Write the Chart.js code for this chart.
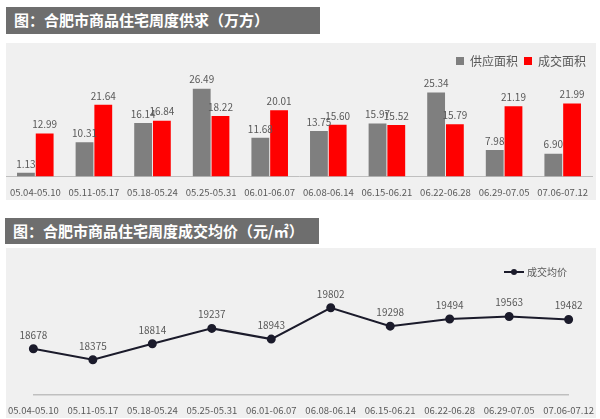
<!DOCTYPE html>
<html><head><meta charset="utf-8">
<script src="https://cdn.jsdelivr.net/npm/chart.js@4"></script>
<style>
body{margin:0;width:600px;height:419px;background:#fff;position:relative;overflow:hidden;font-family:"Noto Sans CJK SC",sans-serif}
.t{position:absolute;background:#6e6e6e;color:#fff;font-weight:bold;font-size:15px;line-height:26px;padding-left:8px;box-sizing:border-box}
.p{position:absolute;background:#f0f0f0}
</style></head><body>
<div class="t" style="left:6px;top:7px;width:314px;height:27px">图：合肥市商品住宅周度供求（万方）</div>
<div class="p" style="left:6px;top:43px;width:590px;height:157px"><canvas id="c1"></canvas></div>
<div class="t" style="left:5px;top:218px;width:314px;height:26px">图：合肥市商品住宅周度成交均价（元/㎡）</div>
<div class="p" style="left:6px;top:248px;width:590px;height:170px"><canvas id="c2"></canvas></div>
<script>
const categories=["05.04-05.10","05.11-05.17","05.18-05.24","05.25-05.31","06.01-06.07","06.08-06.14","06.15-06.21","06.22-06.28","06.29-07.05","07.06-07.12"];
const supply=[1.13,10.31,16.14,26.49,11.68,13.75,15.97,25.34,7.98,6.90];
const deal=[12.99,21.64,16.84,18.22,20.01,15.60,15.52,15.79,21.19,21.99];
const price=[18678,18375,18814,19237,18943,19802,19298,19494,19563,19482];

const labelPlugin={id:'vl',afterDatasetsDraw(ch){const c=ch.ctx;c.save();c.font='10px "Noto Sans CJK SC", sans-serif';c.fillStyle='#595959';c.textAlign='center';c.textBaseline='bottom';
ch.data.datasets.forEach((ds,i)=>{ch.getDatasetMeta(i).data.forEach((el,j)=>{const v=ds.data[j];const s=ch.config.type==='bar'?v.toFixed(2):String(v);c.fillText(s,el.x,el.y-(ch.config.type==='bar'?4:9));});});c.restore();}};
const lineLegend={id:'ll',afterDraw(ch){const c=ch.ctx;c.save();const x=ch.width-72,y=24;c.strokeStyle='#1b1b2b';c.lineWidth=2;c.beginPath();c.moveTo(x-20,y);c.lineTo(x,y);c.stroke();c.fillStyle='#1b1b2b';c.beginPath();c.arc(x-10,y,3,0,7);c.fill();c.font='10px "Noto Sans CJK SC", sans-serif';c.fillStyle='#595959';c.textBaseline='middle';c.fillText('成交均价',x+3,y);c.restore();}};
const xTicks={color:'#595959',padding:2,font:{size:9.5,family:'"Noto Sans CJK SC", sans-serif'}};
new Chart(document.getElementById('c1'),{type:'bar',
data:{labels:categories,datasets:[{label:'供应面积',data:supply,backgroundColor:'#7f7f7f',categoryPercentage:0.64,barPercentage:0.95},{label:'成交面积',data:deal,backgroundColor:'#ff0000',categoryPercentage:0.64,barPercentage:0.95}]},
options:{responsive:true,maintainAspectRatio:false,animation:false,layout:{padding:{left:0,right:4,top:6,bottom:0}},
plugins:{legend:{align:'end',labels:{boxWidth:8,boxHeight:8,color:'#595959',padding:6,font:{size:12,family:'"Noto Sans CJK SC", sans-serif'}}},tooltip:{enabled:false}},
scales:{y:{display:false,min:0,max:30},x:{grid:{display:false},border:{color:'#bfbfbf'},ticks:xTicks}}},plugins:[labelPlugin]});
new Chart(document.getElementById('c2'),{type:'line',
data:{labels:categories,datasets:[{label:'成交均价',data:price,borderColor:'#1b1b2b',backgroundColor:'#1b1b2b',borderWidth:2,pointRadius:3.5,tension:0}]},
options:{responsive:true,maintainAspectRatio:false,animation:false,layout:{padding:{left:0,right:4,top:30,bottom:0}},
plugins:{legend:{display:false},tooltip:{enabled:false}},
scales:{y:{display:false,min:17420,max:20620},x:{grid:{display:false},border:{color:'#bfbfbf',width:1.5},ticks:xTicks}}},plugins:[labelPlugin,lineLegend]});
</script></body></html>
